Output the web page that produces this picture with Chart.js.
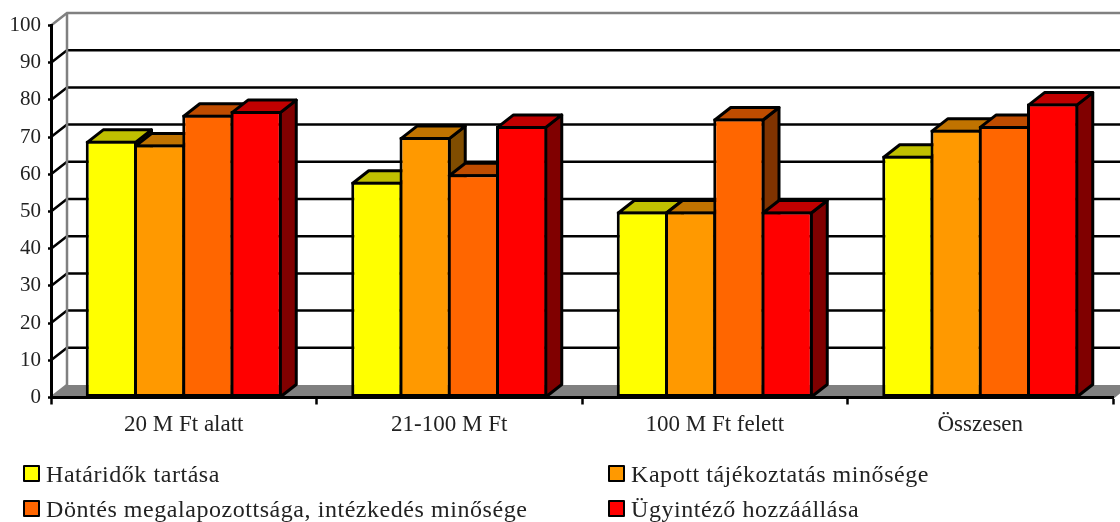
<!DOCTYPE html>
<html lang="hu">
<head>
<meta charset="utf-8">
<title>Elégedettség</title>
<script src="https://cdn.jsdelivr.net/npm/chart.js@4/dist/chart.umd.min.js"></script>
<style>
  html, body { margin: 0; padding: 0; background: #fff; }
  #wrap { position: relative; width: 1120px; height: 522px; overflow: hidden; }
  #legend {
    position: absolute; left: 23px; top: 456px;
    display: grid; grid-template-columns: 585px auto; grid-auto-rows: 35px;
    font: 24px "Liberation Serif", serif; letter-spacing: 0.55px; color: #222;
  }
  .legend-item { display: flex; align-items: center; white-space: nowrap; }
  .legend-item span:last-child { position: relative; top: 1px; }
  .legend-box { width: 13px; height: 13px; border: 2px solid #000; margin-right: 6px; border-radius: 1px; }
</style>
</head>
<body>
<div id="wrap">
  <canvas id="chart"></canvas>
  <div id="legend"></div>
</div>
<script>
const categories = ["20 M Ft alatt", "21-100 M Ft", "100 M Ft felett", "Összesen"];
const seriesLabels = [
  "Határidők tartása",
  "Kapott tájékoztatás minősége",
  "Döntés megalapozottsága, intézkedés minősége",
  "Ügyintéző hozzáállása"
];
const hataridok = [69, 58, 50, 65];
const tajekoztatas = [68, 70, 50, 72];
const dontes = [76, 60, 75, 73];
const ugyintezo = [77, 73, 50, 79];
const seriesValues = [hataridok, tajekoztatas, dontes, ugyintezo];
const seriesColors = ["#ffff00", "#ff9900", "#ff6600", "#ff0000"];
const topColors    = ["#c0c000", "#c07300", "#bf4c00", "#c00000"];
const sideColors   = ["#808000", "#804d00", "#803300", "#800000"];

// eltolas a terhatashoz
const depthX = 16, depthY = -12.5;
const gridW = 2.5, barW = 3;

function poly(ctx, pts, fill, stroke) {
  ctx.beginPath();
  pts.forEach((p, i) => i ? ctx.lineTo(p[0], p[1]) : ctx.moveTo(p[0], p[1]));
  ctx.closePath();
  if (fill) { ctx.fillStyle = fill; ctx.fill(); }
  if (stroke) { ctx.strokeStyle = stroke; ctx.lineWidth = barW; ctx.lineJoin = "round"; ctx.stroke(); }
}

const depth3d = {
  id: "depth3d",
  // hatso fal, padlo, racsvonalak
  beforeDraw(chart) {
    const { ctx, chartArea: a, scales: { y } } = chart;
    ctx.save();
    const floorY = y.getPixelForValue(0);
    poly(ctx, [[a.left, floorY], [a.left + depthX, floorY + depthY], [a.right + depthX, floorY + depthY], [a.right, floorY]], "#808080");
    y.ticks.forEach(t => {
      const py = y.getPixelForValue(t.value);
      const isEdge = t.value === 0 || t.value === 100;
      ctx.strokeStyle = isEdge ? "#808080" : "#000";
      ctx.lineWidth = gridW;
      ctx.beginPath();
      ctx.moveTo(a.left, py);
      ctx.lineTo(a.left + depthX, py + depthY);
      if (t.value !== 0) ctx.lineTo(a.right + depthX, py + depthY);
      ctx.stroke();
    });
    // oldalfal vonala
    ctx.strokeStyle = "#808080";
    ctx.beginPath();
    ctx.moveTo(a.left + depthX, y.getPixelForValue(100) + depthY);
    ctx.lineTo(a.left + depthX, floorY + depthY);
    ctx.stroke();
    ctx.beginPath();
    ctx.moveTo(a.right, floorY);
    ctx.lineTo(a.right + depthX, floorY + depthY);
    ctx.stroke();
    ctx.restore();
  },
  // balrol jobbra rajzolunk: teteje, oldala, aztan az elolap
  beforeDatasetsDraw(chart) {
    const { ctx } = chart;
    seriesLabels.forEach((label, i) => {
      const meta = chart.getDatasetMeta(i);
      ctx.save();
      meta.data.forEach(bar => {
        const l = bar.x - bar.width / 2 + barW / 2;
        const r = bar.x + bar.width / 2 - barW / 2;
        const t = bar.y + barW / 2;
        const b = bar.base;
        poly(ctx, [[r, t], [r + depthX, t + depthY], [r + depthX, b + depthY], [r, b]], sideColors[i], "#000");
        poly(ctx, [[l, t], [l + depthX, t + depthY], [r + depthX, t + depthY], [r, t]], topColors[i], "#000");
      });
      ctx.restore();
      meta.controller.draw();
    });
    return false;
  }
};

new Chart(document.getElementById("chart"), {
  type: "bar",
  data: {
    labels: categories,
    datasets: seriesLabels.map((label, i) => ({
      label,
      data: seriesValues[i],
      backgroundColor: seriesColors[i],
      borderColor: "#000",
      borderWidth: barW,
      borderSkipped: false
    }))
  },
  options: {
    responsive: true,
    maintainAspectRatio: false,
    animation: false,
    layout: { padding: { top: 25.5, right: 7, left: 0, bottom: 0 } },
    plugins: { legend: { display: false }, tooltip: { enabled: false } },
    datasets: { bar: { categoryPercentage: 0.727, barPercentage: 1.062 } },
    scales: {
      x: {
        afterFit(s) { s.height = 124.5; },
        grid: { drawOnChartArea: false, tickColor: "#000", tickWidth: gridW, tickLength: 7 },
        border: { color: "#000", width: 3 },
        ticks: { color: "#222", padding: 7, maxRotation: 0, font: { family: "Liberation Serif", size: 23 } }
      },
      y: {
        min: 0, max: 100,
        afterFit(s) { s.width = 51; },
        grid: { drawOnChartArea: false, tickColor: "#000", tickWidth: gridW, tickLength: 3 },
        border: { color: "#000", width: 3 },
        ticks: { stepSize: 10, color: "#222", padding: 7, font: { family: "Liberation Serif", size: 21 } }
      }
    }
  },
  plugins: [depth3d]
});

// jelmagyarazat
const legend = document.getElementById("legend");
seriesLabels.forEach((label, i) => {
  const item = document.createElement("div");
  item.className = "legend-item";
  const box = document.createElement("span");
  box.className = "legend-box";
  box.style.background = seriesColors[i];
  const text = document.createElement("span");
  text.textContent = label;
  item.appendChild(box);
  item.appendChild(text);
  legend.appendChild(item);
});
</script>
</body>
</html>
